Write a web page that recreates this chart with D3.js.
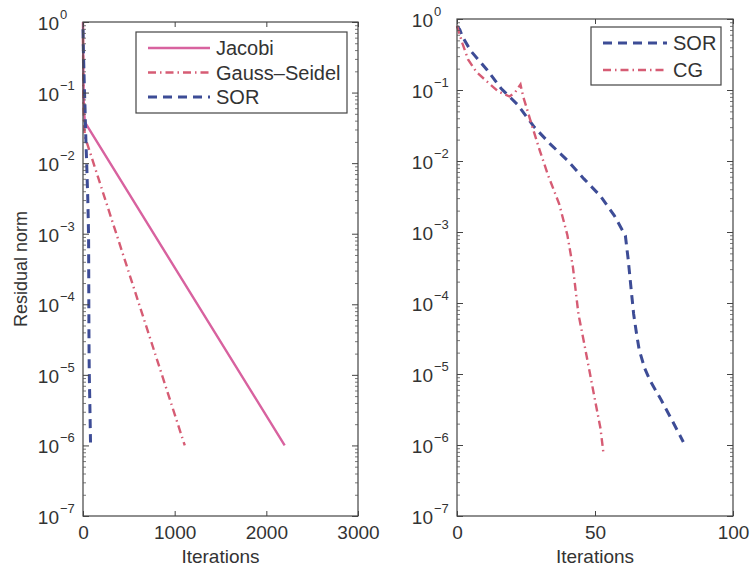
<!DOCTYPE html>
<html>
<head>
<meta charset="utf-8">
<script src="https://cdn.jsdelivr.net/npm/d3@7"></script>
<style>
  body { margin: 0; background: #fff; }
  text { font-family: "Liberation Sans", Arial, sans-serif; fill: #333; }
</style>
</head>
<body>
<svg id="chart" width="752" height="568"></svg>
<script>
// residual norm vs iteration
const jacobiIter = [0, 2, 5, 10, 20, 2200];
const jacobiRes  = [1.0, 0.4, 0.15, 0.06, 0.038, 1e-6];

const gsIter = [0, 2, 5, 10, 20, 1110];
const gsRes  = [0.6, 0.25, 0.08, 0.04, 0.024, 1e-6];

const sorIter = [0, 1, 2, 5, 11, 16, 22, 28, 34, 40, 46, 52, 57, 61, 62, 63, 64, 65, 66, 68, 70, 74, 78, 82];
const sorRes  = [0.79, 0.71, 0.56, 0.355, 0.19, 0.105, 0.062, 0.03, 0.017, 0.0102, 0.0056, 0.0032,
                 0.0017, 8.9e-4, 4.2e-4, 1.7e-4, 7e-5, 3.8e-5, 2.2e-5, 1.2e-5, 8e-6, 4.3e-6, 2.2e-6, 1.1e-6];

const cgIter = [0, 1, 2, 4, 7, 11, 15, 19, 21, 23, 24, 25, 27, 30, 33, 37, 40, 42, 44, 46, 48, 50, 52, 53];
const cgRes  = [0.8, 0.6, 0.45, 0.27, 0.18, 0.13, 0.095, 0.081, 0.092, 0.12, 0.08, 0.06, 0.033, 0.014,
                0.0063, 0.0025, 9e-4, 3.2e-4, 7e-5, 2.8e-5, 1.1e-5, 4.3e-6, 1.7e-6, 8e-7];

const yTicks = [1, 1e-1, 1e-2, 1e-3, 1e-4, 1e-5, 1e-6, 1e-7];
const yExps  = ["0", "\u22121", "\u22122", "\u22123", "\u22124", "\u22125", "\u22126", "\u22127"];
const leftXTicks  = [0, 1000, 2000, 3000];
const rightXTicks = [0, 50, 100];

const svg = d3.select("#chart");

const pink = "#d8629f", red = "#d65c74", blue = "#3d4c96";

const zip = (a, b) => a.map((d, i) => [d, b[i]]);

// minor log ticks 2..9 per decade
const minorTicks = [];
for (let e = -7; e < 0; e++) for (let m = 2; m < 10; m++) minorTicks.push(m * Math.pow(10, e));

function panel(p) {
  const x = d3.scaleLinear().domain(p.xDomain).range([p.left, p.right]);
  const y = d3.scaleLog().domain([1e-7, 1]).range([p.bottom, p.top]);
  const g = svg.append("g");

  const line = d3.line().x(d => x(d[0])).y(d => y(d[1]));

  // data lines
  g.selectAll("path.series")
    .data(p.series)
    .join("path")
      .attr("class", "series")
      .attr("d", d => line(d.points))
      .attr("fill", "none")
      .attr("stroke", d => d.color)
      .attr("stroke-width", d => d.width)
      .attr("stroke-dasharray", d => d.dash);

  // frame
  g.append("rect")
    .attr("x", p.left).attr("y", p.top)
    .attr("width", p.right - p.left).attr("height", p.bottom - p.top)
    .attr("fill", "none").attr("stroke", "#444").attr("stroke-width", 1.2);

  // x axes, ticks pointing in
  const xb = g.append("g").attr("transform", `translate(0,${p.bottom})`)
    .call(d3.axisBottom(x).tickValues(p.xTicks).tickSize(-5).tickPadding(10).tickFormat(d3.format("d")));
  xb.select(".domain").remove();
  xb.selectAll("text").style("font-size", "19px");
  xb.selectAll("line").attr("stroke", "#444");

  const xt = g.append("g").attr("transform", `translate(0,${p.top})`)
    .call(d3.axisTop(x).tickValues(p.xTicks).tickSize(-5).tickFormat(""));
  xt.select(".domain").remove();
  xt.selectAll("line").attr("stroke", "#444");

  // y axes, major and minor
  [[d3.axisLeft, p.left], [d3.axisRight, p.right]].forEach(([ax, pos]) => {
    const major = g.append("g").attr("transform", `translate(${pos},0)`)
      .call(ax(y).tickValues(yTicks).tickSize(-6).tickFormat(""));
    major.select(".domain").remove();
    major.selectAll("line").attr("stroke", "#444");
    const minor = g.append("g").attr("transform", `translate(${pos},0)`)
      .call(ax(y).tickValues(minorTicks).tickSize(-3).tickFormat(""));
    minor.select(".domain").remove();
    minor.selectAll("line").attr("stroke", "#555").attr("stroke-width", 0.8);
  });

  // y tick labels 10^n
  const lab = g.append("g").selectAll("g").data(yTicks).join("g");
  lab.append("text")
    .attr("x", p.left - 24).attr("y", d => y(d) + 8)
    .attr("text-anchor", "end").style("font-size", "19px")
    .text("10");
  lab.append("text")
    .attr("x", p.left - 23).attr("y", d => y(d) - 3)
    .style("font-size", "13px")
    .text((d, i) => yExps[i]);

  // x label
  g.append("text")
    .attr("x", (p.left + p.right) / 2).attr("y", 563)
    .attr("text-anchor", "middle").style("font-size", "19px")
    .text("Iterations");

  // legend
  const lb = p.legend;
  g.append("rect")
    .attr("x", lb.x).attr("y", lb.y).attr("width", lb.w).attr("height", lb.h)
    .attr("fill", "#fff").attr("stroke", "#444").attr("stroke-width", 1.2);
  const items = g.append("g").selectAll("g").data(p.series).join("g")
    .attr("transform", (d, i) => `translate(${lb.x + 12},${lb.y + lb.row0 + i * lb.step})`);
  items.append("line")
    .attr("x1", 0).attr("x2", lb.lineLen).attr("y1", 0).attr("y2", 0)
    .attr("stroke", d => d.color).attr("stroke-width", d => d.width)
    .attr("stroke-dasharray", d => d.dash);
  items.append("text")
    .attr("x", lb.lineLen + 6).attr("y", 7)
    .style("font-size", "20px")
    .text(d => d.name);
}

const sorSeries = { name: "SOR", points: zip(sorIter, sorRes), color: blue, width: 3, dash: "9,6" };

panel({
  left: 83, right: 358, top: 22, bottom: 516,
  xDomain: [0, 3000], xTicks: leftXTicks,
  series: [
    { name: "Jacobi", points: zip(jacobiIter, jacobiRes), color: pink, width: 2.4, dash: null },
    { name: "Gauss\u2013Seidel", points: zip(gsIter, gsRes), color: red, width: 2.4, dash: "8,4,1.5,4" },
    sorSeries
  ],
  legend: { x: 136, y: 32, w: 211, h: 81, row0: 16, step: 24.5, lineLen: 62 }
});

panel({
  left: 457, right: 733, top: 19, bottom: 516,
  xDomain: [0, 100], xTicks: rightXTicks,
  series: [
    sorSeries,
    { name: "CG", points: zip(cgIter, cgRes), color: red, width: 2.4, dash: "8,4,1.5,4" }
  ],
  legend: { x: 591, y: 27, w: 130, h: 58, row0: 16, step: 27, lineLen: 64 }
});

// y label (left panel only)
svg.append("text")
  .attr("transform", "translate(27,269) rotate(-90)")
  .attr("text-anchor", "middle").style("font-size", "18px")
  .text("Residual norm");
</script>
</body>
</html>
